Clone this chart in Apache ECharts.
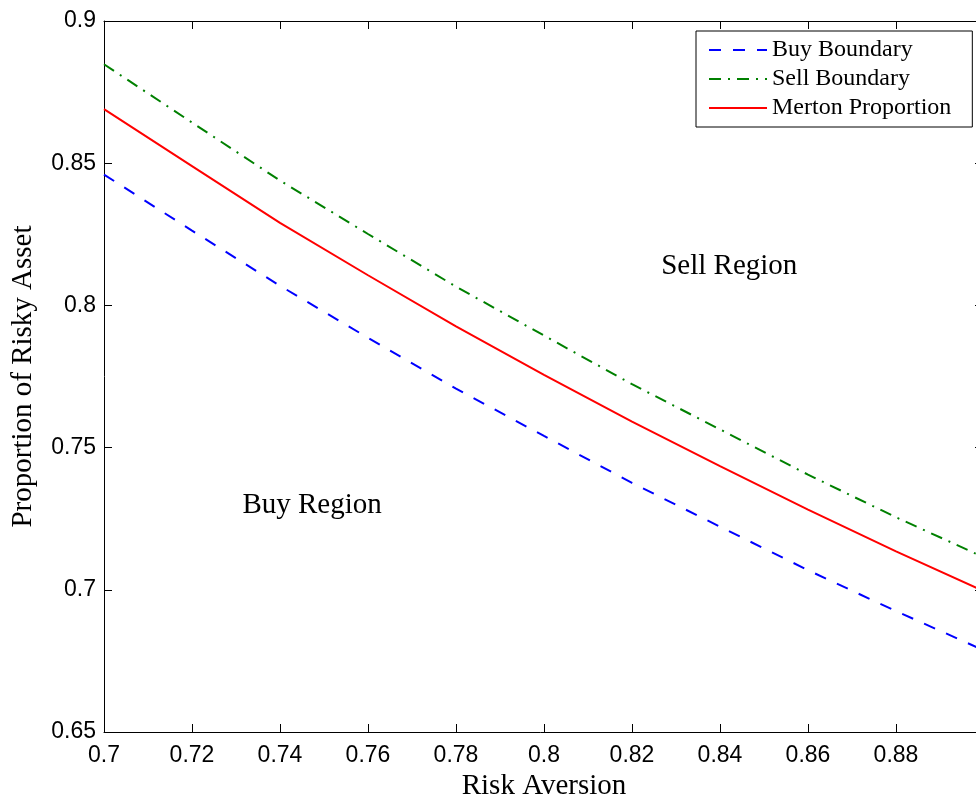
<!DOCTYPE html>
<html>
<head>
<meta charset="utf-8">
<script src="https://cdn.jsdelivr.net/npm/echarts@6/dist/echarts.min.js"></script>
<style>
  html, body { margin: 0; padding: 0; background: #fff; }
  #chart { width: 976px; height: 796px; }
</style>
</head>
<body>
<div id="chart"></div>
<script>
// risk aversion values (x)
const riskAversion = [0.70, 0.72, 0.74, 0.76, 0.78, 0.80, 0.82, 0.84, 0.86, 0.88, 0.90]
// proportions
const buyBoundary = [0.846, 0.8263, 0.8069, 0.7886, 0.7707, 0.7541, 0.7376, 0.7222, 0.7069, 0.6925, 0.6787]
const sellBoundary = [0.8848, 0.8643, 0.8439, 0.8251, 0.8066, 0.7894, 0.7723, 0.7564, 0.7405, 0.7255, 0.7114]
const mertonProportion = [0.869, 0.849, 0.829, 0.8106, 0.7926, 0.7756, 0.7591, 0.7435, 0.7282, 0.7135, 0.6995]

const xTickLabels = ['0.7', '0.72', '0.74', '0.76', '0.78', '0.8', '0.82', '0.84', '0.86', '0.88']
const yTickLabels = ['0.65', '0.7', '0.75', '0.8', '0.85', '0.9']

// region annotations, in data coordinates
const regionNames = ['Sell Region', 'Buy Region']
const regionX = [0.8421, 0.7473]
const regionY = [0.8138, 0.7297]

const serif = '"Liberation Serif", "Times New Roman", serif'
const sans = '"Liberation Sans", Arial, sans-serif'

const pairs = (ys) => riskAversion.map((x, i) => [x, ys[i]])
const fmt = (v) => String(parseFloat(v.toFixed(2)))

const chart = echarts.init(document.getElementById('chart'))

const axisLine = { show: true, lineStyle: { color: '#000', width: 1 } }
const tick = { show: true, inside: true, length: 8, lineStyle: { color: '#000', width: 1 } }

chart.setOption({
  backgroundColor: '#fff',
  animation: false,
  // the right edge of the MATLAB axes sits just past the canvas
  grid: { left: 104, top: 21, right: -8, bottom: 64, containLabel: false, outerBoundsMode: 'none' },
  legend: {
    data: ['Buy Boundary', 'Sell Boundary', 'Merton Proportion'],
    orient: 'vertical',
    left: 696,
    top: 31,
    padding: [7, 21, 7, 12],
    itemWidth: 58,
    itemHeight: 14,
    itemGap: 5,
    itemStyle: { opacity: 0 },
    backgroundColor: '#fff',
    borderColor: '#000',
    borderWidth: 1,
    borderRadius: 0,
    textStyle: { fontFamily: serif, fontSize: 24, color: '#000' }
  },
  xAxis: [
    {
      type: 'value', min: 0.7, max: 0.9, interval: 0.02,
      axisLine, axisTick: tick, splitLine: { show: false },
      axisLabel: {
        color: '#000', fontFamily: sans, fontSize: 23, margin: 12,
        formatter: (v) => xTickLabels.includes(fmt(v)) ? fmt(v) : ''
      },
      name: 'Risk Aversion', nameLocation: 'middle', nameGap: 34,
      nameTextStyle: { fontFamily: serif, fontSize: 29, color: '#000' }
    },
    {
      type: 'value', position: 'top', min: 0.7, max: 0.9, interval: 0.02,
      axisLine, axisTick: tick, axisLabel: { show: false }, splitLine: { show: false }
    }
  ],
  yAxis: [
    {
      type: 'value', min: 0.65, max: 0.9, interval: 0.05,
      axisLine, axisTick: tick, splitLine: { show: false },
      axisLabel: {
        color: '#000', fontFamily: sans, fontSize: 23, margin: 8,
        formatter: (v) => yTickLabels.includes(fmt(v)) ? fmt(v) : ''
      },
      name: 'Proportion of Risky Asset', nameLocation: 'middle', nameGap: 66,
      nameTextStyle: { fontFamily: serif, fontSize: 29, color: '#000' }
    },
    {
      type: 'value', position: 'right', min: 0.65, max: 0.9, interval: 0.05,
      axisLine, axisTick: { ...tick, length: 9 }, axisLabel: { show: false }, splitLine: { show: false }
    }
  ],
  series: [
    {
      name: 'Buy Boundary', type: 'line', data: pairs(buyBoundary),
      symbol: 'none', color: '#0000ff',
      lineStyle: { color: '#0000ff', width: 2, type: [12, 12] }
    },
    {
      name: 'Sell Boundary', type: 'line', data: pairs(sellBoundary),
      symbol: 'none', color: '#008000',
      lineStyle: { color: '#008000', width: 2, type: [12, 7, 2, 7] }
    },
    {
      name: 'Merton Proportion', type: 'line', data: pairs(mertonProportion),
      symbol: 'none', color: '#ff0000',
      lineStyle: { color: '#ff0000', width: 2 }
    },
    {
      name: 'regions', type: 'scatter', symbolSize: 0, silent: true,
      itemStyle: { opacity: 1 },
      data: regionNames.map((n, i) => ({ name: n, value: [regionX[i], regionY[i]] })),
      label: {
        show: true, position: 'inside', formatter: (p) => p.name,
        fontFamily: serif, fontSize: 29, color: '#000', opacity: 1,
        textBorderWidth: 0
      }
    }
  ]
})
</script>
</body>
</html>
